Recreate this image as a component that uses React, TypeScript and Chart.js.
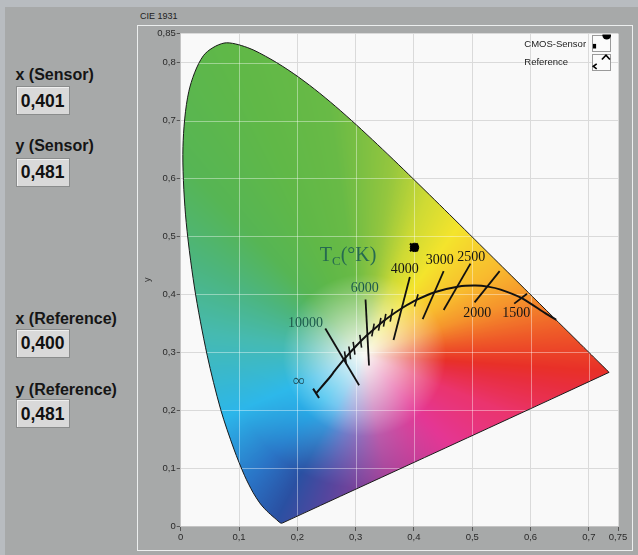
import React, { useEffect, useRef } from 'react';
import { Chart, registerables } from 'chart.js';

Chart.register(...registerables);

// ---------- data ----------
// CIE 1931 spectral locus, 380–700 nm
const LOCUS_NM = [380, 385, 390, 395, 400, 405, 410, 415, 420, 425, 430, 435, 440, 445, 450, 455, 460, 465, 470, 475, 480, 485, 490, 495, 500, 505, 510, 515, 520, 525, 530, 535, 540, 545, 550, 555, 560, 565, 570, 575, 580, 585, 590, 595, 600, 605, 610, 615, 620, 625, 630, 635, 640, 645, 650, 660, 680, 700];
const LOCUS_X = [0.1741, 0.1740, 0.1738, 0.1736, 0.1733, 0.1730, 0.1726, 0.1721, 0.1714, 0.1703, 0.1689, 0.1669, 0.1644, 0.1611, 0.1566, 0.1510, 0.1440, 0.1355, 0.1241, 0.1096, 0.0913, 0.0687, 0.0454, 0.0235, 0.0082, 0.0039, 0.0139, 0.0389, 0.0743, 0.1142, 0.1547, 0.1929, 0.2296, 0.2658, 0.3016, 0.3373, 0.3731, 0.4087, 0.4441, 0.4788, 0.5125, 0.5448, 0.5752, 0.6029, 0.6270, 0.6482, 0.6658, 0.6801, 0.6915, 0.7006, 0.7079, 0.7140, 0.7190, 0.7230, 0.7260, 0.7300, 0.7334, 0.7347];
const LOCUS_Y = [0.0050, 0.0050, 0.0049, 0.0049, 0.0048, 0.0048, 0.0048, 0.0048, 0.0051, 0.0058, 0.0069, 0.0086, 0.0109, 0.0138, 0.0177, 0.0227, 0.0297, 0.0399, 0.0578, 0.0868, 0.1327, 0.2007, 0.2950, 0.4127, 0.5384, 0.6548, 0.7502, 0.8120, 0.8338, 0.8262, 0.8059, 0.7816, 0.7543, 0.7243, 0.6923, 0.6589, 0.6245, 0.5896, 0.5547, 0.5202, 0.4866, 0.4544, 0.4242, 0.3965, 0.3725, 0.3514, 0.3340, 0.3197, 0.3083, 0.2993, 0.2920, 0.2859, 0.2809, 0.2770, 0.2740, 0.2700, 0.2666, 0.2653];

// Planckian locus, from infinity down to the spectral edge
const PLANCK_T = ['∞', 20000, 15000, 10000, 9000, 8000, 7000, 6500, 6000, 5500, 5000, 4500, 4000, 3500, 3000, 2500, 2200, 2000, 1800, 1500, 1200, 1050];
const PLANCK_X = [0.232, 0.2565, 0.2637, 0.2807, 0.2869, 0.2952, 0.3064, 0.3135, 0.3221, 0.3326, 0.3451, 0.3608, 0.3805, 0.4053, 0.4369, 0.4770, 0.5056, 0.5267, 0.5487, 0.5857, 0.6251, 0.6440];
const PLANCK_Y = [0.229, 0.2577, 0.2674, 0.2884, 0.2956, 0.3048, 0.3166, 0.3237, 0.3318, 0.3408, 0.3516, 0.3635, 0.3768, 0.3907, 0.4041, 0.4137, 0.4152, 0.4133, 0.4082, 0.3931, 0.3674, 0.3560];

// Labelled isotherm lines
const ISO_LABELS = ['10000', '6000', '4000', '3000', '2500', '2000', '1500'];
const ISO_X1 = [0.248, 0.317, 0.393, 0.451, 0.497, 0.547, 0.594];
const ISO_Y1 = [0.341, 0.391, 0.430, 0.440, 0.453, 0.440, 0.401];
const ISO_X2 = [0.306, 0.323, 0.365, 0.415, 0.451, 0.504, 0.572];
const ISO_Y2 = [0.243, 0.277, 0.321, 0.357, 0.373, 0.386, 0.384];
const ISO_LABEL_X = [0.2142, 0.3156, 0.3844, 0.4445, 0.4983, 0.5087, 0.5753];
const ISO_LABEL_Y = [0.3498, 0.4098, 0.4440, 0.4584, 0.4640, 0.3680, 0.3680];

// Small isotherm ticks
const TICK_X1 = [0.2810, 0.2884, 0.2958, 0.3072, 0.3318, 0.3433, 0.3518, 0.3633, 0.4071];
const TICK_Y1 = [0.3015, 0.3099, 0.3180, 0.3299, 0.3494, 0.3593, 0.3662, 0.3749, 0.4000];
const TICK_X2 = [0.2840, 0.2914, 0.2988, 0.3102, 0.3278, 0.3393, 0.3478, 0.3593, 0.4011];
const TICK_Y2 = [0.2795, 0.2879, 0.2960, 0.3079, 0.3274, 0.3373, 0.3442, 0.3529, 0.3790];

// Infinity end cap and label
const CAP_X = [0.2271, 0.2373];
const CAP_Y = [0.2372, 0.2211];
const INF_LABEL = '∞';
const INF_LABEL_X = 0.2029;
const INF_LABEL_Y = 0.2486;
const TC_LABEL_X = 0.2385;
const TC_LABEL_Y = 0.457;

// Measured points
const SENSOR_X = 0.401;
const SENSOR_Y = 0.481;
const REF_X = 0.400;
const REF_Y = 0.481;

// Axes
const X_TICKS = [0, 0.1, 0.2, 0.3, 0.4, 0.5, 0.6, 0.7, 0.75];
const Y_TICKS = [0, 0.1, 0.2, 0.3, 0.4, 0.5, 0.6, 0.7, 0.8, 0.85];
const LEGEND_LABELS = ['CMOS-Sensor', 'Reference'];

// ---------- styles ----------
const HUE_DEG = [-156, -132, -118, -105, -80, -47, -22, -9, -4, 6, 20, 33, 54, 69, 82, 98, 113, 133, 151, 172];
// colours near the white point (inner) and towards the spectral edge (outer)
const HUE_INNER = [
  [46, 186, 234], [40, 186, 240], [64, 176, 238], [120, 150, 220], [196, 104, 180], [228, 54, 148],
  [234, 52, 110], [232, 46, 62], [232, 48, 40], [238, 86, 40], [245, 148, 44], [248, 186, 46],
  [244, 228, 44], [206, 218, 52], [148, 198, 62], [104, 186, 70], [96, 184, 71], [86, 181, 84],
  [76, 181, 126], [70, 186, 176],
];
const HUE_OUTER = [
  [44, 182, 234], [42, 116, 198], [42, 80, 162], [84, 70, 158], [162, 62, 150], [228, 54, 148],
  [234, 52, 110], [232, 46, 62], [232, 48, 40], [238, 86, 40], [245, 148, 44], [248, 186, 46],
  [244, 228, 44], [206, 218, 52], [148, 198, 62], [104, 186, 70], [96, 184, 71], [86, 181, 84],
  [76, 181, 126], [70, 186, 176],
];
const WHITE = [249, 249, 245];
const WP = [0.315, 0.295];
const SAT_RADIUS = 0.14;
const OUTER_START = 0.10;
const OUTER_SPAN = 0.13;
const ISO_LABEL_COLORS = ['#1d5a4c', '#1d5a4c', '#151515', '#151515', '#151515', '#151515', '#151515'];
const LOCUS_DS = 2;

const fmt = (v: number) => String(v).replace('.', ',');
const fmt3 = (v: number) => v.toFixed(3).replace('.', ',');

function buildHueTable(N: number, rgb: number[][]) {
  const hue = new Float32Array(N * 3);
  const n = HUE_DEG.length;
  for (let k = 0; k < N; k++) {
    const a = (k + 0.5) / N * Math.PI * 2 - Math.PI;
    let deg = a * 180 / Math.PI;
    let i = n - 1;
    for (let m = 0; m < n - 1; m++) if (deg >= HUE_DEG[m] && deg < HUE_DEG[m + 1]) { i = m; break; }
    const a0 = HUE_DEG[i];
    const a1 = i === n - 1 ? HUE_DEG[0] + 360 : HUE_DEG[i + 1];
    if (i === n - 1 && deg < a0) deg += 360;
    const f = (deg - a0) / (a1 - a0);
    const c0 = rgb[i], c1 = rgb[(i + 1) % n];
    for (let c = 0; c < 3; c++) hue[k * 3 + c] = c0[c] + (c1[c] - c0[c]) * f;
  }
  return hue;
}

const bgPlugin = {
  id: 'plotBg',
  beforeDraw(chart: any) {
    const { ctx, chartArea: a } = chart;
    ctx.save();
    ctx.fillStyle = '#f9f9f9';
    ctx.fillRect(a.left, a.top, a.right - a.left, a.bottom - a.top);
    ctx.restore();
  },
};

const gamutPlugin = {
  id: 'gamut',
  beforeDatasetsDraw(chart: any) {
    const { ctx, chartArea: a, scales } = chart;
    const sx = scales.x, sy = scales.y;
    const L = Math.floor(a.left), T = Math.floor(a.top);
    const W = Math.ceil(a.right) - L, H = Math.ceil(a.bottom) - T;
    const N = 1440;
    const hin = buildHueTable(N, HUE_INNER);
    const hout = buildHueTable(N, HUE_OUTER);
    const off = document.createElement('canvas');
    off.width = W; off.height = H;
    const octx = off.getContext('2d')!;
    const img = octx.createImageData(W, H);
    const xv = new Float64Array(W);
    for (let i = 0; i < W; i++) xv[i] = sx.getValueForPixel(L + i + 0.5);
    for (let j = 0; j < H; j++) {
      const yv = sy.getValueForPixel(T + j + 0.5);
      const dy = yv - WP[1];
      for (let i = 0; i < W; i++) {
        const dx = xv[i] - WP[0];
        const r = Math.sqrt(dx * dx + dy * dy);
        let k = Math.floor((Math.atan2(dy, dx) + Math.PI) / (Math.PI * 2) * N);
        if (k >= N) k = N - 1; if (k < 0) k = 0;
        const t = Math.min(1, r / SAT_RADIUS);
        const u = Math.max(0, Math.min(1, (r - OUTER_START) / OUTER_SPAN));
        const o = (j * W + i) * 4;
        for (let c = 0; c < 3; c++) {
          const h = hin[k * 3 + c] + (hout[k * 3 + c] - hin[k * 3 + c]) * u;
          img.data[o + c] = WHITE[c] + (h - WHITE[c]) * t;
        }
        img.data[o + 3] = 255;
      }
    }
    octx.putImageData(img, 0, 0);
    ctx.save();
    ctx.beginPath();
    const line = chart.getDatasetMeta(LOCUS_DS).dataset;
    if (line && typeof line.path === 'function') {
      line.path(ctx);
    } else {
      LOCUS_X.forEach((x, i) => {
        const px = sx.getPixelForValue(x), py = sy.getPixelForValue(LOCUS_Y[i]);
        if (i === 0) ctx.moveTo(px, py); else ctx.lineTo(px, py);
      });
    }
    ctx.closePath();
    ctx.clip();
    ctx.drawImage(off, L, T);
    ctx.strokeStyle = 'rgba(255,255,255,0.4)';
    ctx.lineWidth = 1;
    ctx.beginPath();
    X_TICKS.forEach((v) => {
      const p = Math.round(sx.getPixelForValue(v)) + 0.5;
      ctx.moveTo(p, a.top); ctx.lineTo(p, a.bottom);
    });
    Y_TICKS.forEach((v) => {
      const p = Math.round(sy.getPixelForValue(v)) + 0.5;
      ctx.moveTo(a.left, p); ctx.lineTo(a.right, p);
    });
    ctx.stroke();
    ctx.restore();
  },
};

const overlayPlugin = {
  id: 'overlay',
  afterDatasetsDraw(chart: any) {
    const { ctx, scales } = chart;
    const sx = scales.x, sy = scales.y;
    ctx.save();
    ctx.textAlign = 'center';
    ctx.textBaseline = 'middle';
    ctx.font = '14px "Liberation Serif", "DejaVu Serif", serif';
    ISO_LABELS.forEach((lab, i) => {
      ctx.fillStyle = ISO_LABEL_COLORS[i];
      ctx.fillText(lab, sx.getPixelForValue(ISO_LABEL_X[i]), sy.getPixelForValue(ISO_LABEL_Y[i]));
    });
    ctx.fillStyle = '#1d4a56';
    ctx.font = '17px "Liberation Serif", "DejaVu Serif", serif';
    ctx.fillText(INF_LABEL, sx.getPixelForValue(INF_LABEL_X), sy.getPixelForValue(INF_LABEL_Y));
    // Tc(°K)
    ctx.textAlign = 'left';
    ctx.textBaseline = 'alphabetic';
    ctx.fillStyle = '#266a50';
    let tx = sx.getPixelForValue(TC_LABEL_X);
    const ty = sy.getPixelForValue(TC_LABEL_Y);
    ctx.font = '20px "Liberation Serif", "DejaVu Serif", serif';
    ctx.fillText('T', tx, ty);
    tx += ctx.measureText('T').width;
    ctx.font = '13px "Liberation Serif", "DejaVu Serif", serif';
    ctx.fillText('C', tx, ty + 4);
    tx += ctx.measureText('C').width;
    ctx.font = '20px "Liberation Serif", "DejaVu Serif", serif';
    ctx.fillText('(°K)', tx, ty);
    ctx.restore();
  },
  afterDraw(chart: any) {
    const { ctx, chartArea: a } = chart;
    ctx.save();
    ctx.fillStyle = '#333';
    ctx.font = '9px "Liberation Sans", Arial, sans-serif';
    ctx.textAlign = 'center';
    ctx.textBaseline = 'middle';
    ctx.translate(10, (a.top + a.bottom) / 2);
    ctx.rotate(-Math.PI / 2);
    ctx.fillText('y', 0, 0);
    ctx.restore();

    ctx.save();
    ctx.font = '9.5px "Liberation Sans", Arial, sans-serif';
    ctx.fillStyle = '#222';
    ctx.textAlign = 'left';
    ctx.textBaseline = 'middle';
    const lx = a.right - 93.7;
    ctx.fillText(LEGEND_LABELS[0], lx, a.top + 10.2);
    ctx.fillText(LEGEND_LABELS[1], lx, a.top + 28.8);
    const bx = a.right - 26.3, bw = 19.3;
    const boxes = [[a.top + 0.8, 17], [a.top + 20.2, 16.6]];
    boxes.forEach(([by, bh]) => {
      ctx.fillStyle = '#fbfbfb';
      ctx.fillRect(bx, by, bw, bh);
      ctx.strokeStyle = '#9a9a9a';
      ctx.lineWidth = 1;
      ctx.strokeRect(Math.round(bx) + 0.5, Math.round(by) + 0.5, Math.round(bw) - 1, Math.round(bh) - 1);
    });
    ctx.save();
    ctx.beginPath();
    ctx.rect(bx, boxes[0][0], bw, boxes[0][1]);
    ctx.clip();
    ctx.fillStyle = '#000';
    ctx.beginPath();
    ctx.arc(bx + 15, boxes[0][0] + 0.8, 4.3, 0, Math.PI * 2);
    ctx.fill();
    ctx.fillRect(bx + 1.2, boxes[0][0] + 9.4, 3.2, 4.6);
    ctx.restore();
    const b2 = boxes[1][0];
    ctx.strokeStyle = '#000';
    ctx.lineWidth = 1.6;
    ctx.beginPath();
    ctx.moveTo(bx + 10.2, b2 + 5.6); ctx.lineTo(bx + 14.3, b2 + 1.2); ctx.lineTo(bx + 18.2, b2 + 5.6);
    ctx.moveTo(bx + 5, b2 + 10); ctx.lineTo(bx + 1.6, b2 + 12.4); ctx.lineTo(bx + 5, b2 + 15);
    ctx.stroke();
    ctx.restore();
  },
};

const pts = (xs: number[], ys: number[]) => xs.map((x, i) => ({ x, y: ys[i] }));
const lineDs = (data: any[], width: number, color: string, tension = 0) => ({
  data, showLine: true, borderColor: color, backgroundColor: color, borderWidth: width,
  pointRadius: 0, pointHoverRadius: 0, fill: false, tension,
});

export default function App() {
  const ref = useRef<HTMLCanvasElement>(null);
  useEffect(() => {
    if (!ref.current) return;
    const locus = pts(LOCUS_X, LOCUS_Y);
    locus.push({ x: LOCUS_X[0], y: LOCUS_Y[0] });
    const datasets: any[] = [
      { data: [{ x: SENSOR_X, y: SENSOR_Y }], pointStyle: 'circle', pointRadius: 4.2, backgroundColor: '#000', borderColor: '#000', borderWidth: 1, showLine: false },
      { data: [{ x: REF_X, y: REF_Y }], pointStyle: 'crossRot', pointRadius: 5.5, backgroundColor: '#000', borderColor: '#000', borderWidth: 2.2, showLine: false },
      lineDs(locus, 1, '#1a1a1a', 0.3),
      lineDs(pts(PLANCK_X, PLANCK_Y), 2, '#111', 0.2),
      lineDs(pts(CAP_X, CAP_Y), 2, '#111'),
      ...ISO_X1.map((x, i) => lineDs([{ x, y: ISO_Y1[i] }, { x: ISO_X2[i], y: ISO_Y2[i] }], 1.8, '#111')),
      ...TICK_X1.map((x, i) => lineDs([{ x, y: TICK_Y1[i] }, { x: TICK_X2[i], y: TICK_Y2[i] }], 1.6, '#111')),
    ];
    const tickFont = { family: '"Liberation Sans", Arial, sans-serif', size: 9.5 };
    const chart = new Chart(ref.current, {
      type: 'scatter',
      data: { datasets },
      options: {
        animation: false,
        responsive: false,
        devicePixelRatio: 1,
        events: [],
        layout: { padding: { left: 0, top: 5.5, right: 14, bottom: 0 } },
        plugins: { legend: { display: false }, tooltip: { enabled: false } },
        scales: {
          x: {
            type: 'linear', min: 0, max: 0.75,
            afterBuildTicks: (s: any) => { s.ticks = X_TICKS.map((v) => ({ value: v })); },
            afterFit: (s: any) => { s.height = 24; },
            grid: { color: '#dadada', tickColor: '#555', tickLength: 5, lineWidth: 1 },
            border: { display: true, color: '#c4c4c4' },
            ticks: { autoSkip: false, maxRotation: 0, padding: 1, color: '#2a2a2a', font: tickFont, callback: (v: any) => fmt(Number(v)) },
          },
          y: {
            type: 'linear', min: 0, max: 0.85,
            afterBuildTicks: (s: any) => { s.ticks = Y_TICKS.map((v) => ({ value: v })); },
            afterFit: (s: any) => { s.width = 42.7; },
            grid: { color: '#dadada', tickColor: '#555', tickLength: 4, lineWidth: 1 },
            border: { display: true, color: '#c4c4c4' },
            ticks: { autoSkip: false, padding: 1, color: '#2a2a2a', font: tickFont, callback: (v: any) => fmt(Number(v)) },
          },
        },
      } as any,
      plugins: [bgPlugin, gamutPlugin, overlayPlugin],
    });
    return () => chart.destroy();
  }, []);

  const labelStyle = (top: number): React.CSSProperties => ({
    position: 'absolute', left: 15.5, top, fontSize: 16, lineHeight: '16px', fontWeight: 700,
    color: '#151515', whiteSpace: 'nowrap', fontFamily: '"Liberation Sans", Arial, sans-serif',
  });
  const boxStyle = (top: number): React.CSSProperties => ({
    position: 'absolute', left: 16, top, width: 54, height: 29, boxSizing: 'border-box',
    background: '#d9d9d9', border: '1px solid #8a8c8c', boxShadow: 'inset 1px 1px 0 #f0f0f0',
  });
  const valueStyle = (top: number): React.CSSProperties => ({
    position: 'absolute', left: 20.7, top, fontSize: 17.5, lineHeight: '17.5px', fontWeight: 700,
    color: '#111', whiteSpace: 'nowrap', fontFamily: '"Liberation Sans", Arial, sans-serif',
  });

  return (
    <div style={{ position: 'absolute', left: 0, top: 0, width: 638, height: 555, background: '#a7a9a9', overflow: 'hidden' }}>
      <div style={{ position: 'absolute', left: 0, top: 0, width: 638, height: 7, background: '#b8bcc0' }} />
      <div style={{ position: 'absolute', left: 0, top: 0, width: 5, height: 555, background: '#b8bcc0' }} />
      <div style={{ position: 'absolute', left: 140, top: 10.5, fontSize: 9, lineHeight: '11px', color: '#222', fontFamily: '"Liberation Sans", Arial, sans-serif', whiteSpace: 'nowrap' }}>CIE 1931</div>
      <div style={{ position: 'absolute', left: 137, top: 25, width: 496, height: 526, boxSizing: 'border-box', border: '1px solid #eceeee' }} />
      <canvas ref={ref} width={494} height={524} style={{ position: 'absolute', left: 138, top: 26, width: 494, height: 524 }} />

      <div style={labelStyle(66.5)}>x (Sensor)</div>
      <div style={boxStyle(86)} />
      <div style={valueStyle(92.5)}>{fmt3(SENSOR_X)}</div>

      <div style={labelStyle(138.2)}>y (Sensor)</div>
      <div style={boxStyle(158)} />
      <div style={valueStyle(164.2)}>{fmt3(SENSOR_Y)}</div>

      <div style={labelStyle(310.5)}>x (Reference)</div>
      <div style={boxStyle(329)} />
      <div style={valueStyle(335.2)}>{fmt3(REF_X)}</div>

      <div style={labelStyle(381.5)}>y (Reference)</div>
      <div style={boxStyle(399)} />
      <div style={valueStyle(406.2)}>{fmt3(REF_Y)}</div>
    </div>
  );
}
